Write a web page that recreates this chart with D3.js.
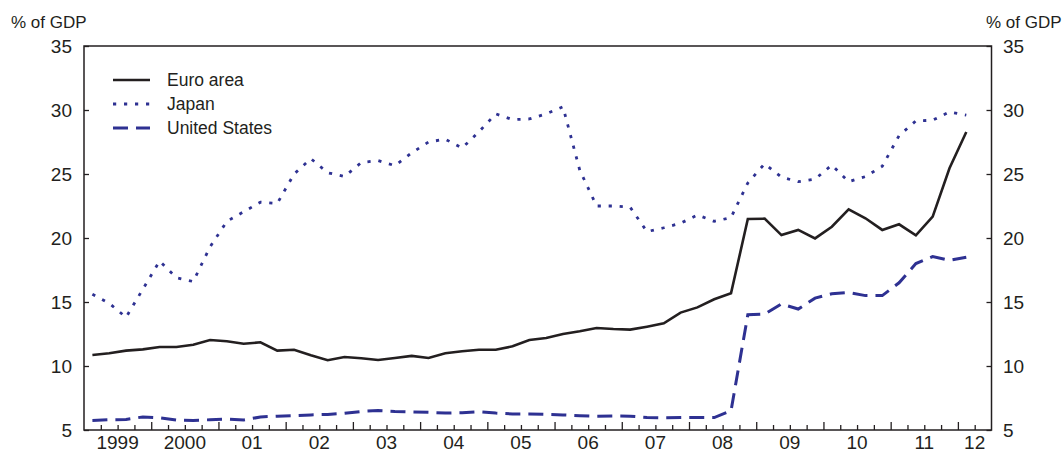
<!DOCTYPE html>
<html><head><meta charset="utf-8">
<script src="https://cdn.jsdelivr.net/npm/d3@7"></script>
<style>body{margin:0;background:#fff}svg text{font-family:"Liberation Sans",Arial,Helvetica,sans-serif;fill:#231f20}</style>
</head><body><svg id="c" width="1064" height="453"></svg>
<script>
// Quarterly observations, 1999 Q1 – 2012 Q1
const quarters = [];
for (let y = 1999; y <= 2012; y++) for (let q = 1; q <= 4; q++) if (!(y === 2012 && q > 1)) quarters.push(y + "Q" + q);

const euroArea = [10.86,10.99,11.20,11.30,11.48,11.48,11.66,12.03,11.93,11.74,11.85,11.20,11.27,10.84,10.45,10.70,10.60,10.47,10.63,10.79,
  10.63,10.99,11.15,11.27,11.27,11.54,12.03,12.19,12.50,12.71,12.97,12.89,12.84,13.07,13.33,14.17,14.58,15.21,15.68,
  21.48,21.51,20.23,20.63,19.97,20.88,22.24,21.54,20.63,21.07,20.21,21.67,25.45,28.28];
const japan = [15.6,14.9,13.8,16.0,18.2,16.9,16.6,19.3,21.3,22.05,22.8,22.7,25.0,26.2,25.1,24.8,25.9,26.05,25.65,26.65,
  27.5,27.72,27.03,28.3,29.7,29.25,29.3,29.7,30.25,25.3,22.5,22.5,22.4,20.5,20.8,21.15,21.8,21.3,21.6,
  24.3,25.8,24.75,24.4,24.6,25.7,24.4,24.8,25.6,28.0,29.15,29.2,29.85,29.6];
const unitedStates = [5.75,5.8,5.82,6.02,5.95,5.78,5.75,5.8,5.85,5.78,6.02,6.08,6.12,6.18,6.22,6.3,6.45,6.52,6.45,6.42,
  6.38,6.33,6.35,6.42,6.32,6.25,6.25,6.22,6.18,6.12,6.08,6.1,6.08,5.98,5.95,5.97,5.98,5.97,6.5,
  14.0,14.05,14.85,14.45,15.3,15.65,15.75,15.5,15.5,16.5,18.0,18.55,18.25,18.5];

const yTicks = [5,10,15,20,25,30,35];
const yearTickLabels = ["1999","2000","01","02","03","04","05","06","07","08","09","10","11","12"];
const seriesNames = ["Euro area","Japan","United States"];
const unitLabel = "% of GDP";

const black = "#231f20", blue = "#2e3192";

const svg = d3.select("#c");
const L = 84, R = 991.5, T = 46, B = 430;
const x = d3.scaleLinear().domain([1999, 2012.5]).range([L, R]);
const y = d3.scaleLinear().domain([5, 35]).range([B, T]);

const qTime = s => +s.slice(0,4) + (+s.slice(5) - 1) / 4 + 0.125;

// Frame
svg.append("rect").attr("x", L).attr("y", T).attr("width", R - L).attr("height", B - T)
  .attr("fill", "none").attr("stroke", black).attr("stroke-width", 1.5);

// Y axes (ticks inward)
const yl = svg.append("g").attr("transform", `translate(${L},0)`)
  .call(d3.axisRight(y).tickValues(yTicks).tickSize(5).tickFormat(""));
const yr = svg.append("g").attr("transform", `translate(${R},0)`)
  .call(d3.axisLeft(y).tickValues(yTicks).tickSize(5).tickFormat(""));
[yl, yr].forEach(g => { g.select(".domain").remove(); g.selectAll("line").attr("stroke", black).attr("stroke-width", 1.3); });

svg.append("g").selectAll("text").data(yTicks).join("text")
  .attr("x", 72).attr("y", d => y(d)).attr("dy", "0.36em").attr("text-anchor", "end")
  .attr("font-size", 19).text(d => d);
svg.append("g").selectAll("text").data(yTicks).join("text")
  .attr("x", 1003).attr("y", d => y(d)).attr("dy", "0.36em").attr("text-anchor", "start")
  .attr("font-size", 19).text(d => d);

svg.append("text").attr("x", 11).attr("y", 28).attr("font-size", 17).text(unitLabel);
svg.append("text").attr("x", 986).attr("y", 28).attr("font-size", 17).text(unitLabel);

// X axis ticks (quarterly minor, yearly major), inward
const minorT = d3.range(1999.25, 2012.5, 0.25).filter(t => Math.abs(t - Math.round(t)) > 1e-6);
const majorT = d3.range(2000, 2013, 1);
const xm = svg.append("g").attr("transform", `translate(0,${B})`)
  .call(d3.axisTop(x).tickValues(minorT).tickSize(5).tickFormat(""));
const xM = svg.append("g").attr("transform", `translate(0,${B})`)
  .call(d3.axisTop(x).tickValues(majorT).tickSize(8).tickFormat(""));
[xm, xM].forEach(g => { g.select(".domain").remove(); g.selectAll("line").attr("stroke", black).attr("stroke-width", 1.3); });

svg.append("g").selectAll("text").data(yearTickLabels).join("text")
  .attr("x", (d, i) => x(i === 13 ? 2012.25 : 1999.5 + i)).attr("y", 448.5)
  .attr("text-anchor", "middle").attr("font-size", 19).text(d => d);

// Lines
const series = [
  {name: seriesNames[0], values: euroArea, color: black, width: 2.6, dash: null},
  {name: seriesNames[1], values: japan, color: blue, width: 2.8, dash: "3.2 7.8"},
  {name: seriesNames[2], values: unitedStates, color: blue, width: 3, dash: "15 8"}
];
const line = d3.line().x((d, i) => x(qTime(quarters[i]))).y(d => y(d));
series.slice().reverse().forEach(s => {
  svg.append("path").datum(s.values).attr("d", line).attr("fill", "none")
    .attr("stroke", s.color).attr("stroke-width", s.width)
    .attr("stroke-dasharray", s.dash).attr("stroke-linejoin", "miter");
});

// Legend
const lg = svg.append("g");
series.forEach((s, i) => {
  const yy = 80 + i * 24;
  lg.append("line").attr("x1", 113).attr("x2", 150).attr("y1", yy).attr("y2", yy)
    .attr("stroke", s.color).attr("stroke-width", s.width).attr("stroke-dasharray", s.dash);
  lg.append("text").attr("x", 167).attr("y", yy).attr("dy", "0.36em").attr("font-size", 17.5).text(s.name);
});
</script></body></html>
